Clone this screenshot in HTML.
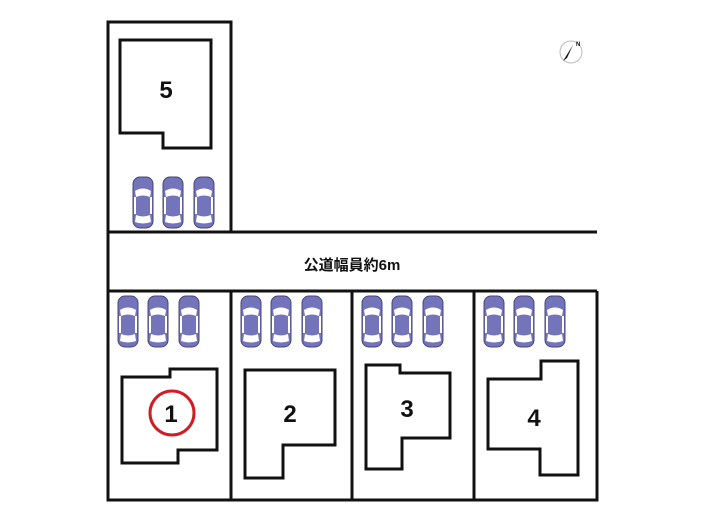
<!DOCTYPE html>
<html><head><meta charset="utf-8"><style>
html,body{margin:0;padding:0;background:#fff;width:705px;height:525px;overflow:hidden}
text{font-family:"Liberation Sans","Noto Sans CJK JP",sans-serif;font-weight:bold;fill:#111}
</style></head><body>
<svg width="705" height="525" viewBox="0 0 705 525" xmlns="http://www.w3.org/2000/svg">
<defs>
<g id="car">
<rect x="-10" y="0" width="20" height="51" rx="7" fill="#7474bb" stroke="#44447a" stroke-width="1"/>
<path d="M-8 14 Q0 9 8 14 L7 20 Q0 17 -7 20Z" fill="#fff"/>
<path d="M-7 38 Q0 41 7 38 L8 45 Q0 48 -8 45Z" fill="#fff"/>
<rect x="-9" y="20" width="2" height="17" fill="#fff"/>
<rect x="7" y="20" width="2" height="17" fill="#fff"/>
</g>
</defs>
<g fill="none" stroke="#111" stroke-width="3">
<path d="M108 232 V22 H231 V232"/>
<path d="M108 232 H597"/>
<path d="M108 291 H597"/>
<path d="M108 232 V500 H597 V291"/>
<path d="M231 291 V500 M352 291 V500 M474 291 V500"/>
<path d="M120 40 H211 V148 H163 V133 H120 Z"/>
<path d="M122 377 H170 V369 H217 V450 H178 V463 H122 Z"/>
<path d="M245 370 H335 V445 H283 V478 H245 Z"/>
<path d="M366 365 H400 V373 H450 V438 H402 V469 H366 Z"/>
<path d="M488 379 H541 V361 H578 V475 H540 V449 H488 Z"/>
</g>
<circle cx="172" cy="413" r="22" fill="none" stroke="#d01c22" stroke-width="3"/>
<g font-size="24" text-anchor="middle">
<text x="166" y="98">5</text>
<text x="171" y="422">1</text>
<text x="290" y="422">2</text>
<text x="407" y="417">3</text>
<text x="534" y="426">4</text>
</g>
<text x="352" y="270" font-size="15" text-anchor="middle">公道幅員約6m</text>
<use href="#car" x="143" y="177"/><use href="#car" x="173" y="177"/><use href="#car" x="204" y="177"/>
<use href="#car" x="128" y="296"/><use href="#car" x="158" y="296"/><use href="#car" x="189" y="296"/>
<use href="#car" x="251" y="296"/><use href="#car" x="281" y="296"/><use href="#car" x="312" y="296"/>
<use href="#car" x="372" y="296"/><use href="#car" x="402" y="296"/><use href="#car" x="433" y="296"/>
<use href="#car" x="494" y="296"/><use href="#car" x="524" y="296"/><use href="#car" x="555" y="296"/>
<circle cx="571" cy="52" r="11" fill="none" stroke="#bbb" stroke-width="1"/>
<path d="M563 61 L573 45 L567 58 Z" fill="#111"/>
<text x="576" y="46" font-size="6">N</text>
</svg>
</body></html>
